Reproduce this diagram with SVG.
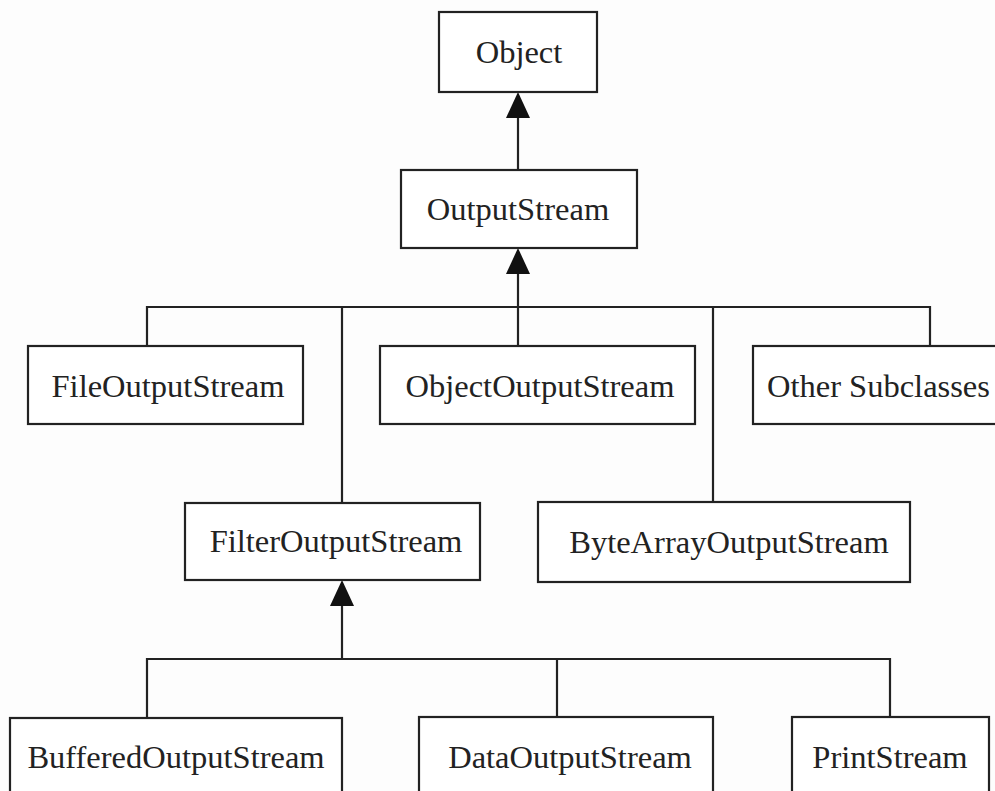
<svg xmlns="http://www.w3.org/2000/svg" width="995" height="791" viewBox="0 0 995 791">
  <defs>
    <style>
      .box { fill: #ffffff; stroke: #222; stroke-width: 2.2; }
      .lbl { font-family: "Liberation Serif", "Times New Roman", serif; font-size: 32.5px; fill: #222; text-anchor: middle; }
      .ln { fill: none; stroke: #222; stroke-width: 2.2; }
      .ah { fill: #111; }
    </style>
  </defs>
  <rect x="0" y="0" width="995" height="791" fill="#fdfdfd"/>

  <g id="connectors">
    <line class="ln" x1="518" y1="170" x2="518" y2="112"/>
    <polygon class="ah" points="518,92 506,118 530,118"/>
    <line class="ln" x1="518" y1="346" x2="518" y2="268"/>
    <polygon class="ah" points="518,248 506,274 530,274"/>
    <polyline class="ln" points="147,346 147,307 930,307 930,346"/>
    <line class="ln" x1="342" y1="307" x2="342" y2="503"/>
    <line class="ln" x1="713" y1="307" x2="713" y2="502"/>
    <line class="ln" x1="342" y1="659" x2="342" y2="600"/>
    <polygon class="ah" points="342,580 330,606 354,606"/>
    <polyline class="ln" points="147,718 147,659 890,659 890,717"/>
    <line class="ln" x1="557" y1="659" x2="557" y2="717"/>
  </g>

  <g id="object">
    <rect class="box" x="439" y="12" width="158" height="80"/>
    <text class="lbl" x="519" y="63">Object</text>
  </g>
  <g id="outputstream">
    <rect class="box" x="401" y="170" width="236" height="78"/>
    <text class="lbl" x="518" y="220">OutputStream</text>
  </g>
  <g id="fileoutputstream">
    <rect class="box" x="28" y="346" width="275" height="78"/>
    <text class="lbl" x="168" y="397">FileOutputStream</text>
  </g>
  <g id="objectoutputstream">
    <rect class="box" x="380" y="346" width="315" height="78"/>
    <text class="lbl" x="540" y="397">ObjectOutputStream</text>
  </g>
  <g id="othersubclasses">
    <rect class="box" x="753" y="346" width="250" height="78"/>
    <text class="lbl" x="767" y="397" style="text-anchor:start">Other Subclasses</text>
  </g>
  <g id="filteroutputstream">
    <rect class="box" x="185" y="503" width="295" height="77"/>
    <text class="lbl" x="336" y="552">FilterOutputStream</text>
  </g>
  <g id="bytearrayoutputstream">
    <rect class="box" x="538" y="502" width="372" height="80"/>
    <text class="lbl" x="729" y="553">ByteArrayOutputStream</text>
  </g>
  <g id="bufferedoutputstream">
    <rect class="box" x="10" y="718" width="332" height="90"/>
    <text class="lbl" x="176" y="768">BufferedOutputStream</text>
  </g>
  <g id="dataoutputstream">
    <rect class="box" x="419" y="717" width="294" height="90"/>
    <text class="lbl" x="570" y="768">DataOutputStream</text>
  </g>
  <g id="printstream">
    <rect class="box" x="792" y="717" width="197" height="90"/>
    <text class="lbl" x="890" y="768">PrintStream</text>
  </g>
</svg>
